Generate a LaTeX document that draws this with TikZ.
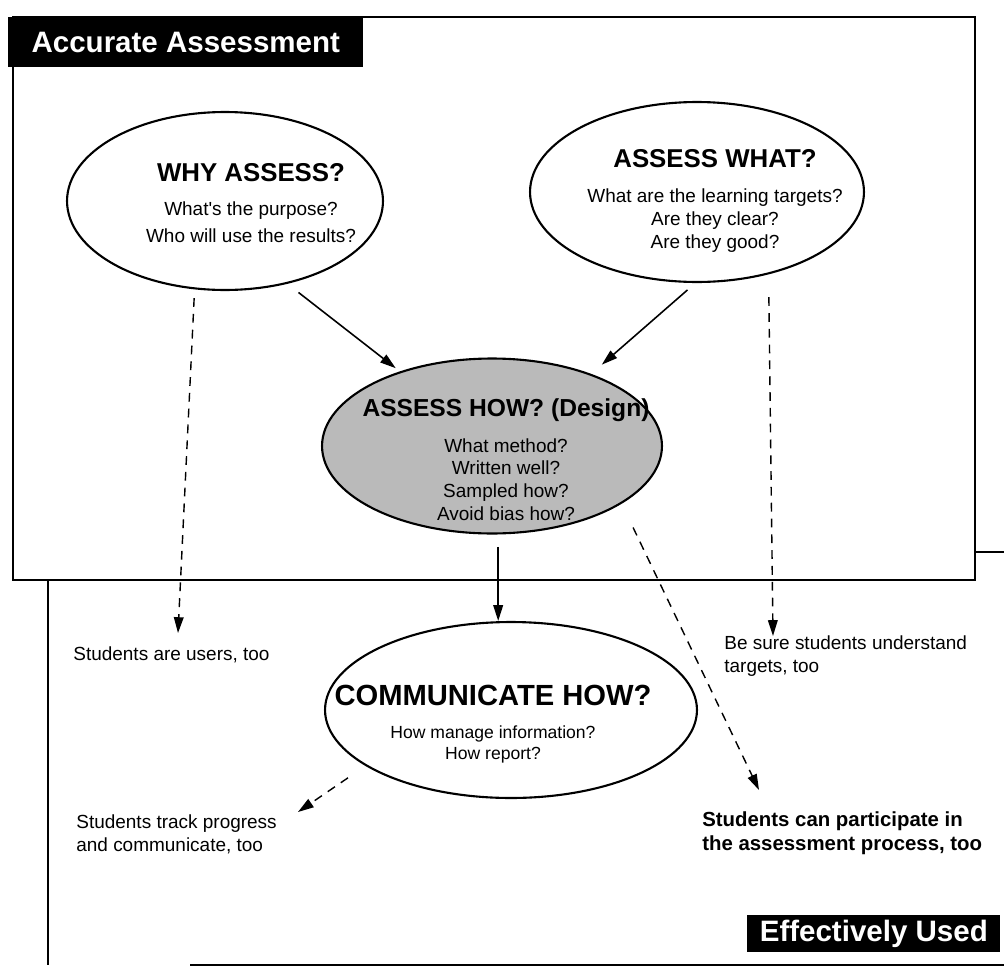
\documentclass[tikz,border=0pt]{standalone}
\usepackage{fontspec}
\setmainfont{Liberation Sans}
\usetikzlibrary{shapes.geometric,arrows.meta}

\newcommand\bubtitle{\bfseries\fontsize{14.7}{17}\selectfont}

\begin{document}
\begin{tikzpicture}[x=0.02cm, y=-0.02cm,
    bubble/.style={draw, line width=1.2pt, ellipse, inner sep=0pt},
    bubtext/.style={align=center, inner sep=0pt, font=\fontsize{10.8}{13}\selectfont},
    note/.style={align=left, anchor=west, inner sep=0pt, font=\fontsize{10.8}{13}\selectfont},
    tag/.style={fill=black, text=white, inner sep=0pt, anchor=north west, font=\bfseries\fontsize{16.8}{20}\selectfont},
    solidarrow/.style={line width=0.9pt, -{Triangle[length=9pt,width=5.5pt]}},
    dasharrow/.style={line width=0.8pt, dash pattern=on 5pt off 4pt, -{Triangle[length=9pt,width=5.5pt]}}]
    \useasboundingbox (0,0) rectangle (1004,967);
    \draw[line width=1.6pt] (1004,552) -- (48,552) -- (48,965);
    \draw[line width=1.6pt] (190,965) -- (1004,965);
    \draw[line width=1.6pt, fill=white] (13,17) rectangle (975,580);
    \node[tag, minimum width=7.1cm, minimum height=1cm] (accurate) at (8,17) {Accurate Assessment};
    \node[tag, minimum width=5.06cm, minimum height=0.74cm] (effective) at (747,915) {Effectively Used};

    \node[bubble, minimum width=6.32cm, minimum height=3.56cm] (why) at (225,201) {};
    \node[bubble, minimum width=6.68cm, minimum height=3.6cm] (what) at (697,192) {};
    \node[bubble, fill=black!27, minimum width=6.8cm, minimum height=3.5cm] (how) at (492,446) {};
    \node[bubble, minimum width=7.44cm, minimum height=3.52cm] (comm) at (511,710) {};

    \node[bubtext, font=\fontsize{10.8}{15.5}\selectfont] (whytext) at (251,203) {{\bubtitle WHY ASSESS?}\\[4pt] What\textquotesingle s the purpose?\\ Who will use the results?};
    \node[bubtext] (whattext) at (715,201) {{\bubtitle ASSESS WHAT?}\\[7pt] What are the learning targets?\\ Are they clear?\\ Are they good?};
    \node[bubtext] (howtext) at (506,460) {{\bfseries\fontsize{14}{17}\selectfont ASSESS HOW? (Design)}\\[7pt] What method?\\ Written well?\\ Sampled how?\\ Avoid bias how?};
    \node[bubtext, font=\fontsize{10}{12}\selectfont] (commtext) at (493,724) {{\bfseries\fontsize{16.6}{19}\selectfont COMMUNICATE HOW?}\\[7pt] How manage information?\\ How report?};

    \node[note] (users) at (73,655) {Students are users, too};
    \node[note] (track) at (76,834) {Students track progress\\and communicate, too};
    \node[note] (targets) at (724,656) {Be sure students understand\\targets, too};
    \node[note, font=\bfseries\fontsize{11.6}{13.5}\selectfont] (participate) at (702,833) {Students can participate in\\the assessment process, too};

    \coordinate (userstip) at (178,633);
    \coordinate (targetstip) at (773,636);
    \coordinate (participatetip) at (759,790);
    \coordinate (tracktip) at (298,812);

    \draw[solidarrow, shorten <=8pt, shorten >=3pt] (why.-53) -- (how.141);
    \draw[solidarrow, shorten <=6pt, shorten >=8pt] (what.-91) -- (how.36);
    \draw[solidarrow, shorten <=7pt] (how.-86) -- (how.-86 |- comm.north);
    \draw[dasharrow, shorten <=5pt] (why.251) -- (userstip);
    \draw[dasharrow, shorten <=13pt] (what.-49.5) -- (targetstip);
    \draw[dasharrow, shorten <=15pt] (how.-24) -- (participatetip);
    \draw[dasharrow, shorten <=12pt] (comm.201) -- (tracktip);
\end{tikzpicture}
\end{document}
